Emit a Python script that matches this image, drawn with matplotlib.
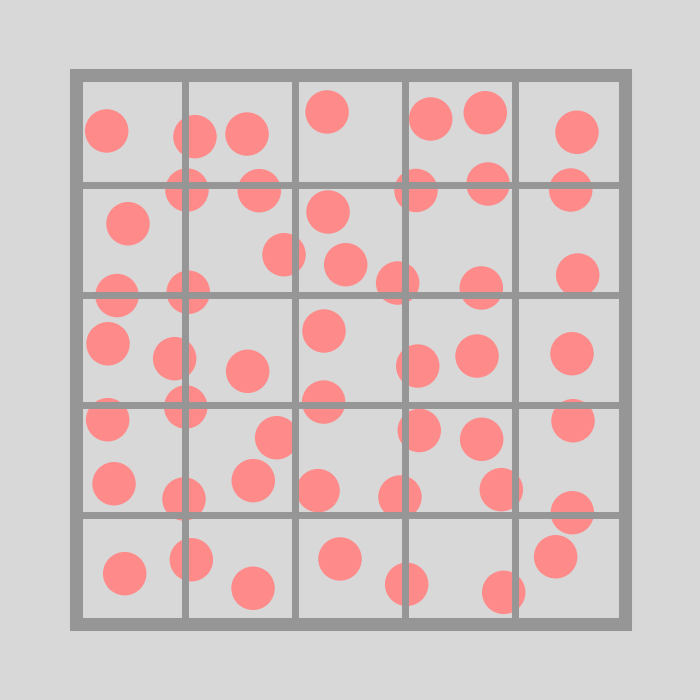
import numpy as np
import matplotlib
matplotlib.use('Agg')
import matplotlib.pyplot as plt
from matplotlib.patches import Circle, Rectangle

# circle centres in grid units (5x5 grid, y runs downwards)
xs = [0.284, 1.088, 1.562, 2.291, 3.235, 3.732, 4.567,
      1.015, 1.674, 3.101, 3.757, 4.510,
      0.478, 2.300, 1.899, 2.461, 2.934, 3.696, 4.574, 0.378, 1.027,
      0.296, 2.263, 0.903, 1.568, 3.117, 3.657, 4.522,
      0.293, 1.004, 2.260, 3.131, 3.699, 4.531, 1.832,
      0.351, 0.988, 1.619, 2.209, 2.955, 3.878, 4.525,
      0.448, 1.055, 1.617, 2.409, 3.016, 3.900, 4.373]
ys = [0.505, 0.557, 0.533, 0.332, 0.396, 0.339, 0.517,
      1.043, 1.049, 1.047, 0.988, 1.043,
      1.350, 1.243, 1.632, 1.723, 1.890, 1.935, 1.817, 2.004, 1.974,
      2.443, 2.327, 2.579, 2.694, 2.646, 2.555, 2.534,
      3.135, 3.019, 2.974, 3.233, 3.313, 3.144, 3.299,
      3.718, 3.857, 3.690, 3.781, 3.839, 3.772, 3.982,
      4.537, 4.410, 4.670, 4.403, 4.634, 4.707, 4.383]
n_cells = 5
radius = 0.198

bg = '#d8d8d8'
line_col = '#969696'
dot_col = '#ff8a8a'

fig = plt.figure(figsize=(7, 7), dpi=100, facecolor=bg)
ax = fig.add_axes([0, 0, 1, 1])
ax.set_facecolor(bg)

pad = 75.5 / 109.8
ax.set_xlim(-pad, n_cells + pad)
ax.set_ylim(n_cells + pad, -pad)
ax.set_aspect('equal')
ax.axis('off')

for x, y in zip(xs, ys):
    ax.add_patch(Circle((x, y), radius, facecolor=dot_col, edgecolor='none', zorder=1))

# inner grid lines
ticks = np.arange(1, n_cells)
ax.vlines(ticks, 0, n_cells, colors=line_col, linewidth=5.0, zorder=2)
ax.hlines(ticks, 0, n_cells, colors=line_col, linewidth=5.0, zorder=2)

# outer frame
ax.add_patch(Rectangle((0, 0), n_cells, n_cells, fill=False, edgecolor=line_col,
                       linewidth=9.4, joinstyle='miter', zorder=3))

fig.savefig('out.png', dpi=100, facecolor=bg)
